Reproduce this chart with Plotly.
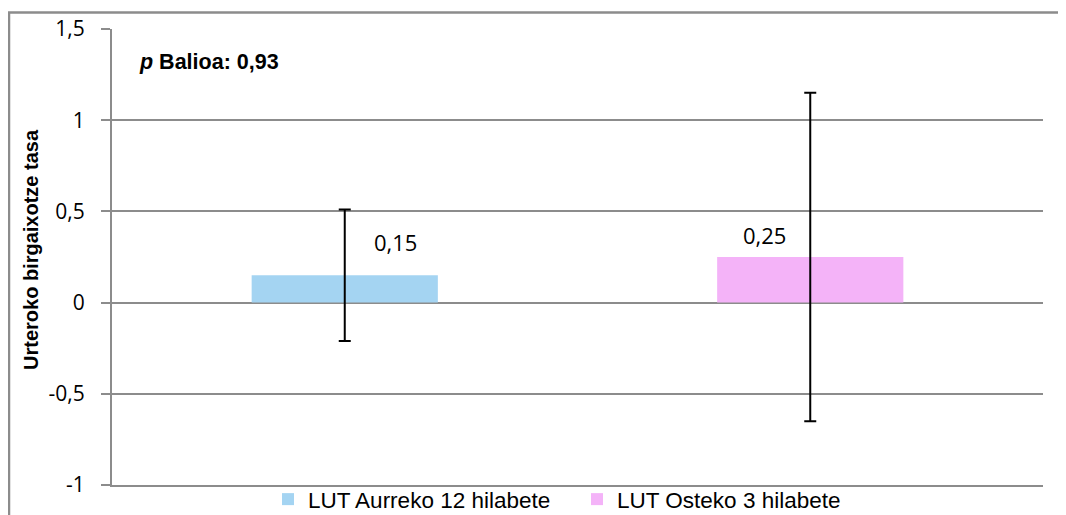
import plotly.graph_objects as go

categories = ["LUT Aurreko 12 hilabete", "LUT Osteko 3 hilabete"]
values = [0.15, 0.25]
errors = [0.36, 0.90]
value_labels = ["0,15", "0,25"]
colors = ["#A4D4F2", "#F4B3F8"]
tick_vals = [-1, -0.5, 0, 0.5, 1, 1.5]
tick_text = ["-1", "-0,5", "0", "0,5", "1", "1,5"]
p_text = "<b><i>p</i> Balioa: 0,93</b>"
y_title = "Urteroko birgaixotze tasa"

# the page body adds an 8px offset; figure occupies screen x 8..1066, y 8..515
OFF = 8
W, H = 1058, 507
L, R, T, B = 104, 23, 21, 30
pw, ph = W - L - R, H - T - B

def px_x(x):
    return (x - OFF - L) / pw

def px_y(y):
    return (OFF + H - B - y) / ph

fig = go.Figure()
for cat, v, e, c in zip(categories, values, errors, colors):
    fig.add_trace(go.Bar(
        x=[cat], y=[v], name=cat, width=0.4,
        marker=dict(color=c, line=dict(width=0)),
        error_y=dict(type="data", array=[e], visible=True,
                     color="black", thickness=2, width=6),
    ))

shifts = [(51, 33), (-46, 22)]
for cat, v, lab, (dx, dy) in zip(categories, values, value_labels, shifts):
    fig.add_annotation(x=cat, y=v, text=lab, showarrow=False,
                       xshift=dx, yshift=dy, xanchor="center", yanchor="middle",
                       font=dict(family="Open Sans", size=22, color="black"))

fig.add_annotation(xref="paper", yref="paper", x=px_x(137), y=px_y(62),
                   text=p_text, showarrow=False, xanchor="left", yanchor="middle",
                   font=dict(family="Liberation Sans", size=21.5, color="black"))

fig.add_annotation(xref="paper", yref="paper", x=px_x(31), y=px_y(250),
                   text="<b>" + y_title + "</b>", textangle=-90, showarrow=False,
                   xanchor="center", yanchor="middle",
                   font=dict(family="Liberation Sans", size=20, color="black"))

# outer chart frame
fig.add_shape(type="rect", xref="paper", yref="paper",
              x0=px_x(9), x1=px_x(1075), y0=px_y(540), y1=px_y(12.5),
              line=dict(color="#8C8C8C", width=2.5), fillcolor="rgba(0,0,0,0)",
              layer="below")

fig.update_layout(
    width=W, height=H,
    margin=dict(l=L, r=R, t=T, b=B, pad=0, autoexpand=False),
    paper_bgcolor="white", plot_bgcolor="white",
    barmode="overlay",
    showlegend=True,
    legend=dict(orientation="h", x=px_x(268), y=px_y(478), xanchor="left",
                yanchor="top", entrywidth=264, entrywidthmode="pixels",
                font=dict(family="Liberation Sans", size=22.5, color="black"),
                bgcolor="rgba(0,0,0,0)", borderwidth=0, itemclick=False,
                tracegroupgap=0),
    xaxis=dict(range=[-0.5, 1.5], showticklabels=False, ticks="",
               showgrid=False, showline=True, linecolor="#8C8C8C", linewidth=2,
               zeroline=False, fixedrange=True),
    yaxis=dict(range=[-1, 1.5], tickvals=tick_vals, ticktext=tick_text,
               ticks="outside", ticklen=9, tickcolor="#8C8C8C", tickwidth=2,
               showgrid=True, gridcolor="#8C8C8C", gridwidth=1.5,
               showline=True, linecolor="#8C8C8C", linewidth=2,
               zeroline=False, ticklabelstandoff=12,
               tickfont=dict(family="Open Sans", size=21, color="black"),
               fixedrange=True),
)

fig.write_html("out.html")
